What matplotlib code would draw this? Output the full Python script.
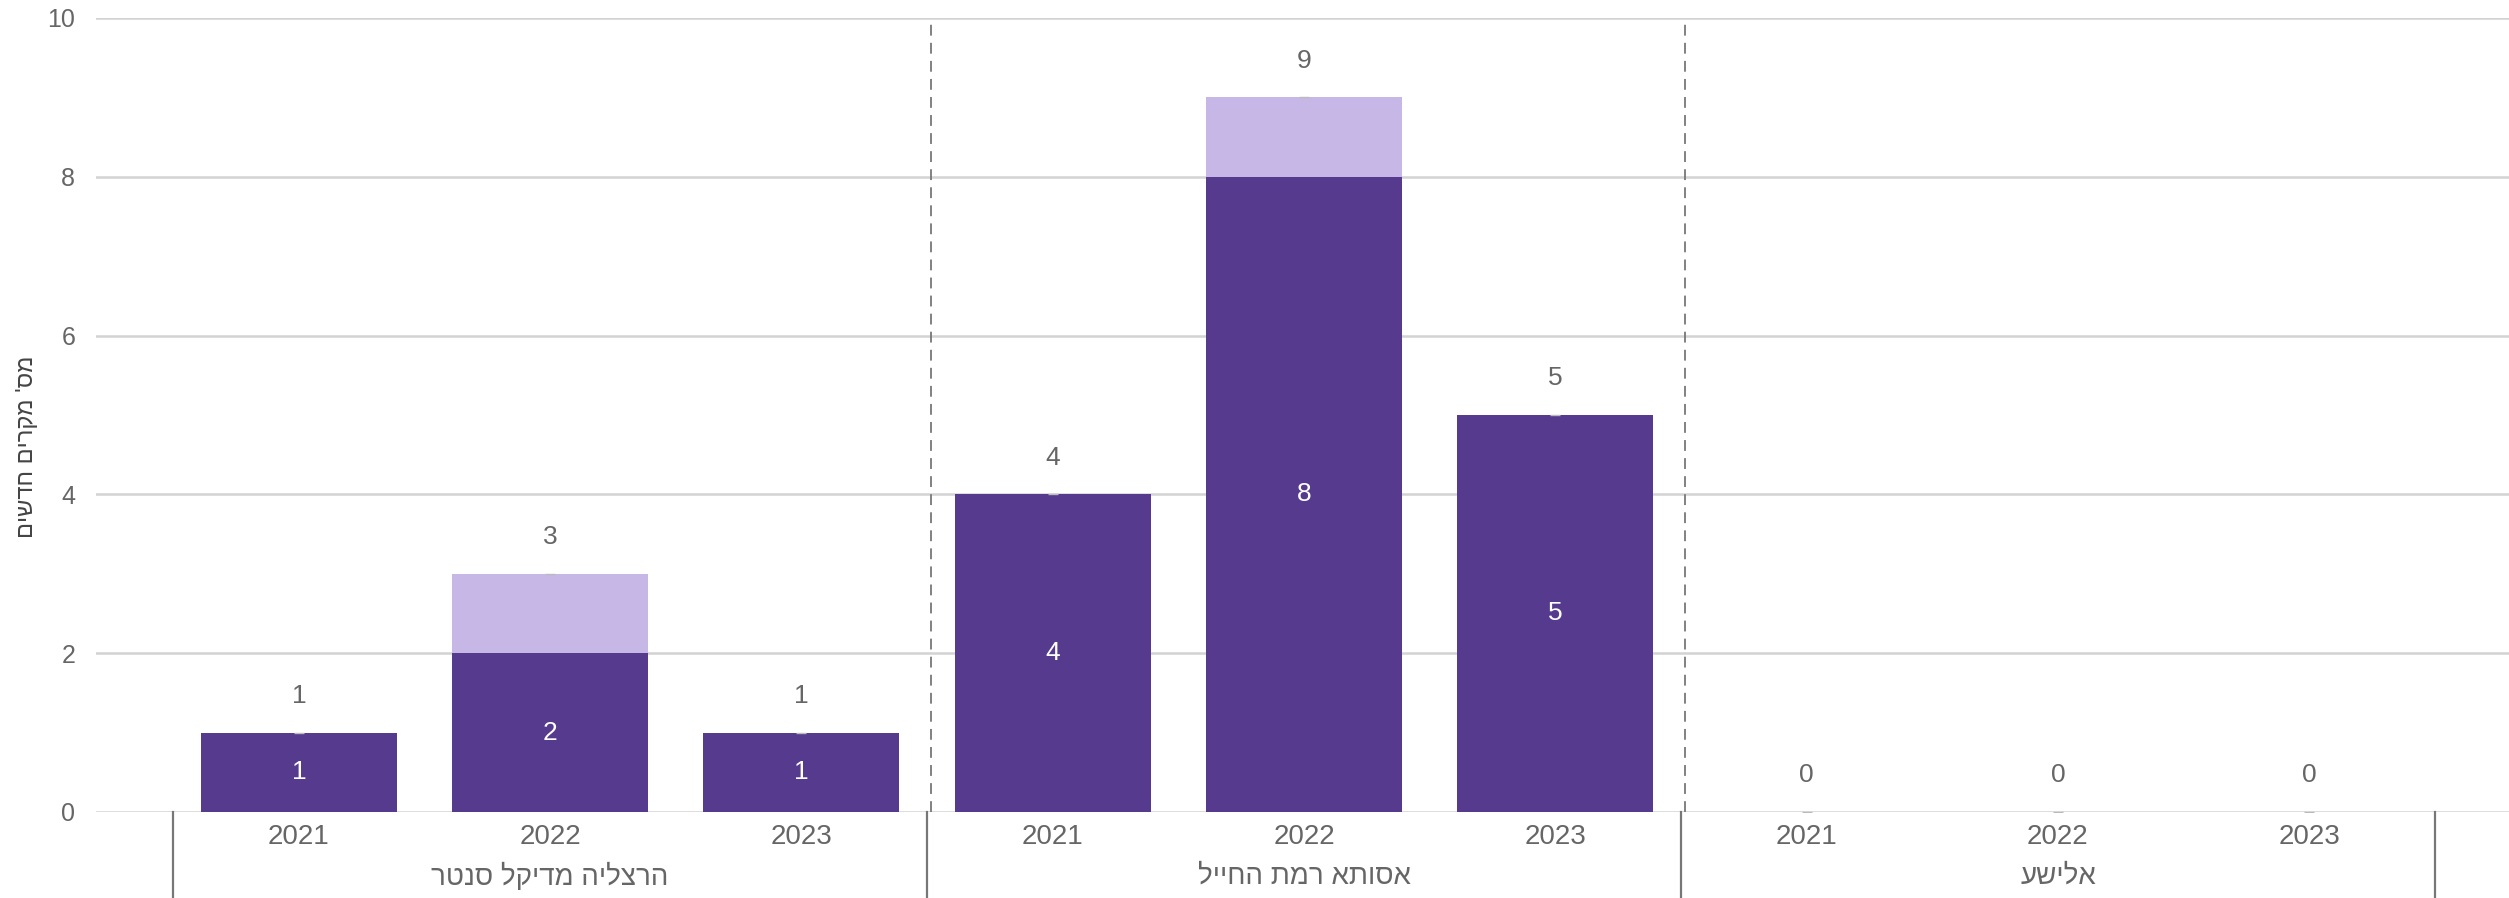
import matplotlib
matplotlib.use("Agg")
import matplotlib.pyplot as plt
import numpy as np

plt.rcParams['font.family'] = ['Liberation Sans', 'DejaVu Sans']

# ---- data ----
groups = ["הרצליה מדיקל סנטר", "אסותא רמת החייל", "אלישע"]
years = ["2021", "2022", "2023"]
dark_values = [1, 2, 1, 4, 8, 5, 0, 0, 0]
light_values = [0, 1, 0, 0, 1, 0, 0, 0, 0]
y_label = "מס' מקרים חדשים"
y_ticks = [0, 2, 4, 6, 8, 10]

DARK = "#563A8E"
LIGHT = "#C7B7E6"
GRID = "#D3D3D3"
TXT = "#666666"


def rtl(s):
    # visual order for pure-RTL text (matplotlib has no bidi)
    return s[::-1]


fig = plt.figure(figsize=(25.09, 8.98), dpi=100)
ax = fig.add_axes([0.0383, 0.0958, 0.9617, 0.8842])

n = len(dark_values)
x = np.arange(n)
totals = [d + l for d, l in zip(dark_values, light_values)]
bw = 0.78

ax.bar(x, dark_values, width=bw, color=DARK, zorder=3)
ax.bar(x, light_values, width=bw, bottom=dark_values, color=LIGHT, zorder=3)

# small marker at totals
ax.plot(x, totals, linestyle='none', marker='_', markersize=7, color='#BBBBBB', zorder=4)

for xi, d, t in zip(x, dark_values, totals):
    ax.text(xi, t + 0.46, str(t), ha='center', va='center', fontsize=19, color=TXT, zorder=5)
    if d > 0:
        ax.text(xi, d / 2, str(d), ha='center', va='center', fontsize=19, color='white', zorder=5)

ax.set_ylim(0, 10)
ax.set_xlim(-0.807, 8.795)
ax.set_yticks(y_ticks)
ax.set_yticklabels([str(v) for v in y_ticks], fontsize=18, color=TXT)
ax.tick_params(axis='y', length=0, pad=15)
ax.yaxis.grid(True, color=GRID, linewidth=1.8, zorder=0)
ax.set_axisbelow(True)
for sp in ax.spines.values():
    sp.set_visible(False)

ax.set_xticks(x)
ax.set_xticklabels(years * len(groups), fontsize=20, color=TXT)
ax.tick_params(axis='x', length=0, pad=9)

ax.set_ylabel(rtl(y_label), fontsize=17, color='#444444')
ax.yaxis.set_label_coords(-0.024, 0.46)

# dashed group dividers in plot
for i in range(1, len(groups)):
    xd = i * 3 - 0.5 + 0.016
    ax.plot([xd, xd], [0, 10], color='#777777', linewidth=1.3, linestyle=(0, (6, 4)), zorder=2)

# separators below axis and group labels
trans = ax.get_xaxis_transform()
for i in range(len(groups) + 1):
    xs = i * 3 - 0.5
    ax.plot([xs, xs], [0, -0.11], transform=trans, color='#777777', linewidth=1.6, clip_on=False)
for i, g in enumerate(groups):
    ax.text(i * 3 + 1, -0.082, rtl(g), transform=trans, ha='center', va='center',
            fontsize=20, color=TXT)

fig.savefig("out.png", dpi=100, facecolor='white')
